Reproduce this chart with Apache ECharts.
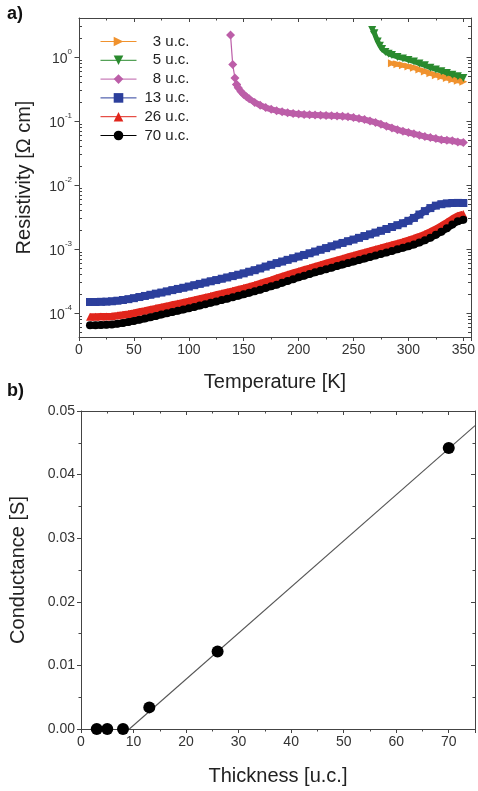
<!DOCTYPE html>
<html><head><meta charset="utf-8">
<script src="https://cdn.jsdelivr.net/npm/echarts@6/dist/echarts.min.js"></script>
<style>html,body{margin:0;padding:0;background:#fff}#c{width:478px;height:791px}</style>
</head><body><div id="c"></div>
<script>
// ---------- Panel a: resistivity vs temperature ----------
const tempK = [10,15,20,25,30,35,40,45,50,55,60,65,70,75,80,85,90,95,100,105,110,115,120,125,130,135,140,145,150,155,160,165,170,175,180,185,190,195,200,205,210,215,220,225,230,235,240,245,250,255,260,265,270,275,280,285,290,295,300,305,310,315,320,325,330,335,340,345,350];
const rho13uc = [1.48e-4,1.48e-4,1.49e-4,1.5e-4,1.52e-4,1.55e-4,1.59e-4,1.64e-4,1.70e-4,1.77e-4,1.84e-4,1.92e-4,2.0e-4,2.08e-4,2.17e-4,2.27e-4,2.37e-4,2.47e-4,2.58e-4,2.71e-4,2.84e-4,2.98e-4,3.12e-4,3.26e-4,3.42e-4,3.58e-4,3.76e-4,3.95e-4,4.15e-4,4.4e-4,4.65e-4,4.95e-4,5.3e-4,5.65e-4,6.0e-4,6.35e-4,6.75e-4,7.15e-4,7.6e-4,8.05e-4,8.55e-4,9.1e-4,9.7e-4,1.03e-3,1.1e-3,1.17e-3,1.24e-3,1.32e-3,1.4e-3,1.49e-3,1.59e-3,1.69e-3,1.8e-3,1.92e-3,2.05e-3,2.2e-3,2.35e-3,2.52e-3,2.75e-3,3.05e-3,3.45e-3,3.9e-3,4.35e-3,4.75e-3,5.0e-3,5.15e-3,5.22e-3,5.24e-3,5.22e-3];
const rho26uc = [8.7e-5,8.7e-5,8.75e-5,8.8e-5,8.9e-5,9.1e-5,9.35e-5,9.65e-5,1.0e-4,1.04e-4,1.08e-4,1.13e-4,1.18e-4,1.23e-4,1.28e-4,1.34e-4,1.4e-4,1.46e-4,1.52e-4,1.59e-4,1.67e-4,1.75e-4,1.83e-4,1.92e-4,2.01e-4,2.11e-4,2.21e-4,2.32e-4,2.44e-4,2.58e-4,2.73e-4,2.9e-4,3.08e-4,3.27e-4,3.5e-4,3.73e-4,3.97e-4,4.22e-4,4.48e-4,4.75e-4,5.03e-4,5.33e-4,5.65e-4,5.98e-4,6.33e-4,6.7e-4,7.08e-4,7.48e-4,7.9e-4,8.35e-4,8.82e-4,9.32e-4,9.85e-4,1.04e-3,1.1e-3,1.16e-3,1.22e-3,1.29e-3,1.37e-3,1.46e-3,1.57e-3,1.7e-3,1.86e-3,2.05e-3,2.3e-3,2.6e-3,2.95e-3,3.3e-3,3.5e-3];
const rho70uc = [6.4e-5,6.4e-5,6.45e-5,6.5e-5,6.6e-5,6.75e-5,6.95e-5,7.2e-5,7.5e-5,7.8e-5,8.15e-5,8.55e-5,8.95e-5,9.4e-5,9.85e-5,1.03e-4,1.08e-4,1.13e-4,1.18e-4,1.24e-4,1.3e-4,1.37e-4,1.44e-4,1.51e-4,1.59e-4,1.67e-4,1.76e-4,1.85e-4,1.95e-4,2.06e-4,2.18e-4,2.31e-4,2.45e-4,2.6e-4,2.76e-4,2.95e-4,3.15e-4,3.37e-4,3.6e-4,3.82e-4,4.05e-4,4.3e-4,4.55e-4,4.82e-4,5.1e-4,5.4e-4,5.7e-4,6.02e-4,6.35e-4,6.7e-4,7.07e-4,7.47e-4,7.9e-4,8.35e-4,8.82e-4,9.32e-4,9.85e-4,1.04e-3,1.1e-3,1.17e-3,1.26e-3,1.37e-3,1.5e-3,1.66e-3,1.86e-3,2.1e-3,2.4e-3,2.7e-3,2.85e-3];

const temp8uc = [138,140,142,143.5,145,147.5,150,152.5,155,160,165,170,175,180,185,190,195,200,205,210,215,220,225,230,235,240,245,250,255,260,265,270,275,280,285,290,295,300,305,310,315,320,325,330,335,340,345,350];
const rho8uc = [2.2,0.76,0.47,0.37,0.33,0.29,0.26,0.24,0.222,0.195,0.176,0.162,0.152,0.145,0.139,0.134,0.131,0.128,0.126,0.125,0.124,0.123,0.122,0.121,0.12,0.118,0.116,0.113,0.109,0.105,0.1,0.095,0.089,0.083,0.078,0.073,0.069,0.066,0.063,0.06,0.057,0.055,0.053,0.051,0.05,0.049,0.047,0.046];

const temp5uc = [267,269,272,274,276,279,282,285,290,295,300,305,310,315,320,325,330,335,340,345,350];
const rho5uc = [2.65,2.35,1.75,1.5,1.33,1.2,1.12,1.07,1.0,0.95,0.9,0.85,0.79,0.74,0.68,0.64,0.6,0.56,0.53,0.5,0.47];

const temp3uc = [285,290,295,300,305,310,315,320,325,330,335,340,345,350];
const rho3uc = [0.80,0.77,0.74,0.71,0.68,0.635,0.595,0.555,0.52,0.495,0.47,0.445,0.425,0.41];

// log-axis minor tick positions (2..9 per decade)
const logMinorTicks = [5e-5,6e-5,7e-5,8e-5,9e-5,2e-4,3e-4,4e-4,5e-4,6e-4,7e-4,8e-4,9e-4,2e-3,3e-3,4e-3,5e-3,6e-3,7e-3,8e-3,9e-3,0.02,0.03,0.04,0.05,0.06,0.07,0.08,0.09,0.2,0.3,0.4,0.5,0.6,0.7,0.8,0.9,2,3,4];

// ---------- Panel b: conductance vs thickness ----------
const thicknessUC = [3,5,8,13,26,70];
const conductanceS = [0,0,0,0.0034,0.0122,0.0442];
const fitThickness = [9.2,75];
const fitConductance = [0,0.0477];

const seriesNames = ['3 u.c.','5 u.c.','8 u.c.','13 u.c.','26 u.c.','70 u.c.'];

const pair = (xs, ys) => xs.map((x, i) => [x, ys[i]]);
const FONT = "'Liberation Sans', Arial, sans-serif";
const AX = '#444';
const TITLE = {fontFamily: FONT, fontSize: 20, color: '#222'};

const chart = echarts.init(document.getElementById('c'), null, {renderer: 'canvas'});

function frameX(grid, min, max, interval, pos, main, name, gap) {
  return {
    type: 'value', gridIndex: grid, position: pos, min, max, interval,
    name: main ? name : '', nameLocation: 'middle', nameGap: gap, nameTextStyle: TITLE,
    axisLine: {show: true, onZero: false, lineStyle: {color: AX, width: 1}},
    axisTick: {show: true, inside: !main, length: 4, lineStyle: {color: AX}},
    minorTick: {show: true, splitNumber: 2, length: 2.5, lineStyle: {color: AX}},
    axisLabel: {show: main, fontFamily: FONT, fontSize: 14, color: '#333', margin: 6, showMaxLabel: false},
    splitLine: {show: false}
  };
}

const logLabel = function (v) {
  const e = Math.round(Math.log10(v));
  return '{b|10}{s|' + e + '}';
};

function logY(pos, main) {
  return {
    type: 'log', logBase: 10, gridIndex: 0, position: pos, min: 4.2e-5, max: 4.07,
    name: main ? 'Resistivity [\u03A9 cm]' : '', nameLocation: 'middle', nameGap: 45, nameTextStyle: TITLE,
    axisLine: {show: true, onZero: false, lineStyle: {color: AX, width: 1}},
    axisTick: {show: true, inside: !main, length: 4.5, lineStyle: {color: AX}},
    axisLabel: {show: main, formatter: logLabel, margin: 7, showMinLabel: false, showMaxLabel: false,
      rich: {
        b: {fontFamily: FONT, fontSize: 14, color: '#333', lineHeight: 18, verticalAlign: 'bottom'},
        s: {fontFamily: FONT, fontSize: 8, color: '#333', lineHeight: 10, verticalAlign: 'top'}
      }},
    splitLine: {show: false}
  };
}

function linY(pos, main) {
  return {
    type: 'value', gridIndex: 1, position: pos, min: 0, max: 0.05, interval: 0.01,
    name: main ? 'Conductance [S]' : '', nameLocation: 'middle', nameGap: 53, nameTextStyle: TITLE,
    axisLine: {show: true, onZero: false, lineStyle: {color: AX, width: 1}},
    axisTick: {show: true, inside: !main, length: 4, lineStyle: {color: AX}},
    minorTick: {show: true, splitNumber: 2, length: 2.5, lineStyle: {color: AX}},
    axisLabel: {show: main, fontFamily: FONT, fontSize: 14, color: '#333', margin: 6,
      formatter: v => v.toFixed(2)},
    splitLine: {show: false}
  };
}

const lineSeries = (name, data, color, symbol, size, width, rot) => ({
  name, type: 'line', xAxisIndex: 0, yAxisIndex: 0, data,
  symbol, symbolSize: size, symbolRotate: rot || 0, showSymbol: true,
  itemStyle: {color, opacity: 1}, lineStyle: {color, width}, emphasis: {disabled: true}
});

const mag = pair(temp8uc, rho8uc);

const option = {
  animation: false,
  backgroundColor: '#fff',
  textStyle: {fontFamily: FONT},
  grid: [
    {left: 79, top: 18, right: 6, bottom: 454, containLabel: false},
    {left: 79, top: 411, right: 3, bottom: 62, containLabel: false}
  ],
  xAxis: [
    frameX(0, 0, 357, 50, 'bottom', true, 'Temperature [K]', 35),
    frameX(0, 0, 357, 50, 'top', false, '', 0),
    frameX(1, 0, 75, 10, 'bottom', true, 'Thickness [u.c.]', 37),
    frameX(1, 0, 75, 10, 'top', false, '', 0)
  ],
  yAxis: [
    logY('left', true), logY('right', false),
    linY('left', true), Object.assign(linY('right', false), {gridIndex: 1})
  ],
  legend: {
    data: seriesNames, orient: 'vertical', left: 95, top: 29,
    itemWidth: 36, itemHeight: 12, itemGap: 3.8,
    lineStyle: {width: 1},
    formatter: '{n|{name}}',
    textStyle: {fontFamily: FONT, fontSize: 15, color: '#222',
      rich: {n: {fontFamily: FONT, fontSize: 15, color: '#222', width: 48, align: 'right'}}}
  },
  graphic: [
    {type: 'text', left: 7, top: 5, style: {text: 'a)', font: 'bold 18px ' + FONT, fill: '#111'}},
    {type: 'text', left: 7, top: 382, style: {text: 'b)', font: 'bold 18px ' + FONT, fill: '#111'}}
  ],
  series: [
    lineSeries('3 u.c.', pair(temp3uc, rho3uc), '#F0922E', 'triangle', 8, 5, -90),
    lineSeries('5 u.c.', pair(temp5uc, rho5uc), '#2A8A2E', 'triangle', 8, 5, 180),
    lineSeries('8 u.c.', mag.slice(0, 4), '#BC5EA8', 'diamond', 9, 1.2),
    lineSeries('8 u.c.', mag.slice(3), '#BC5EA8', 'diamond', 9, 6),
    lineSeries('13 u.c.', pair(tempK, rho13uc), '#2C3F9C', 'rect', 8, 7),
    lineSeries('26 u.c.', pair(tempK, rho26uc), '#E1261C', 'triangle', 8, 7),
    lineSeries('70 u.c.', pair(tempK, rho70uc), '#000000', 'circle', 8, 7),
    {
      name: 'minorTicks', type: 'custom', xAxisIndex: 0, yAxisIndex: 0, silent: true, clip: false,
      data: logMinorTicks.map(v => [0, v]),
      renderItem: function (params, api) {
        const y = Math.round(api.coord([0, api.value(1)])[1]) + 0.5;
        const cs = params.coordSys;
        const st = {stroke: AX, lineWidth: 1};
        return {type: 'group', children: [
          {type: 'line', shape: {x1: cs.x, y1: y, x2: cs.x + 3, y2: y}, style: st},
          {type: 'line', shape: {x1: cs.x + cs.width - 3, y1: y, x2: cs.x + cs.width, y2: y}, style: st}
        ]};
      },
      z: 1
    },
    {
      name: 'fit', type: 'line', xAxisIndex: 2, yAxisIndex: 2,
      data: pair(fitThickness, fitConductance), showSymbol: false, symbol: 'none',
      lineStyle: {color: '#555', width: 1.1}, emphasis: {disabled: true}, z: 2
    },
    {
      name: 'conductance', type: 'scatter', xAxisIndex: 2, yAxisIndex: 2,
      data: pair(thicknessUC, conductanceS), symbol: 'circle', symbolSize: 12,
      itemStyle: {color: '#000', opacity: 1}, clip: false, emphasis: {disabled: true}, z: 3
    }
  ]
};
chart.setOption(option);
</script>
</body></html>
